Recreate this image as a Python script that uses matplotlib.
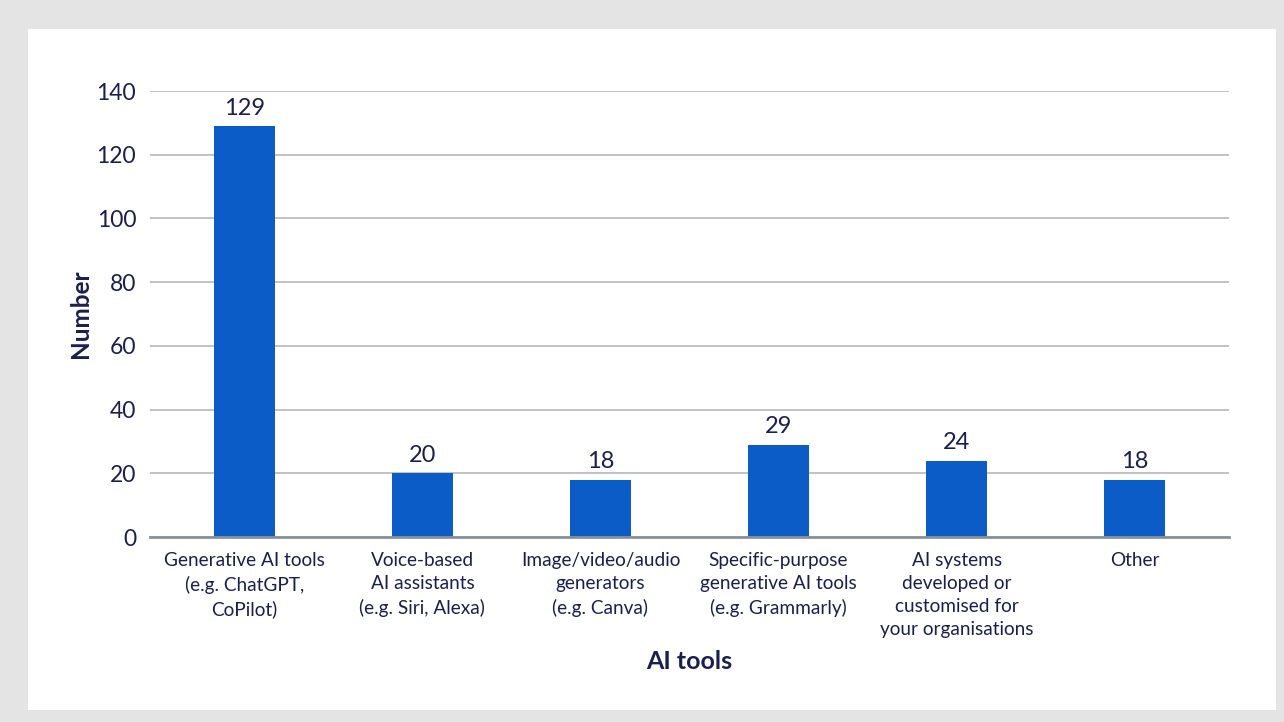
import matplotlib
matplotlib.use("Agg")
import matplotlib.pyplot as plt
from matplotlib.patches import Rectangle

# data
categories = [
    "Generative AI tools\n(e.g. ChatGPT,\nCoPilot)",
    "Voice-based\nAI assistants\n(e.g. Siri, Alexa)",
    "Image/video/audio\ngenerators\n(e.g. Canva)",
    "Specific-purpose\ngenerative AI tools\n(e.g. Grammarly)",
    "AI systems\ndeveloped or\ncustomised for\nyour organisations",
    "Other",
]
values = [129, 20, 18, 29, 24, 18]
y_ticks = [0, 20, 40, 60, 80, 100, 120, 140]

navy = "#1b1f4f"
bar_col = "#0b5cc7"

plt.rcParams["font.family"] = ["Lato", "DejaVu Sans"]

fig = plt.figure(figsize=(12.84, 7.22), dpi=100)
fig.patch.set_facecolor("#e4e4e4")
# white panel behind the chart
fig.patches.append(Rectangle((28 / 1284, 1 - 710 / 722), (1276 - 28) / 1284, (710 - 29) / 722,
                             transform=fig.transFigure, facecolor="white", edgecolor="none", zorder=-10))

ax = fig.add_axes([150 / 1284, 1 - 537 / 722, (1229 - 150) / 1284, (537 - 91) / 722])
ax.set_facecolor("none")

x = list(range(len(categories)))
bars = ax.bar(x, values, width=0.34, color=bar_col, zorder=3)
for xi, v in zip(x, values):
    ax.text(xi, v + 2.3, str(v), ha="center", va="bottom", fontsize=17, color=navy, zorder=4)

ax.set_ylim(0, 140)
ax.set_xlim(-0.53, 5.53)
ax.set_yticks(y_ticks)
ax.set_xticks(x)
ax.set_xticklabels(categories, fontsize=13.7, color=navy, linespacing=1.42, va="top")
ax.tick_params(axis="y", length=0, pad=10, labelsize=16.5, labelcolor=navy)
ax.tick_params(axis="x", length=0, pad=11)

ax.grid(axis="y", color="#b4b9bd", linewidth=1.2, zorder=0)
ax.set_axisbelow(True)
for s in ["top", "right", "left"]:
    ax.spines[s].set_visible(False)
ax.spines["bottom"].set_color("#8a9299")
ax.spines["bottom"].set_linewidth(2)
ax.spines["bottom"].set_zorder(5)

ax.set_ylabel("Number", fontsize=17.5, fontweight="bold", color=navy, labelpad=3)
ax.set_xlabel("AI tools", fontsize=18, fontweight="bold", color=navy, labelpad=9)

fig.savefig("out.png", dpi=100, facecolor=fig.get_facecolor())
